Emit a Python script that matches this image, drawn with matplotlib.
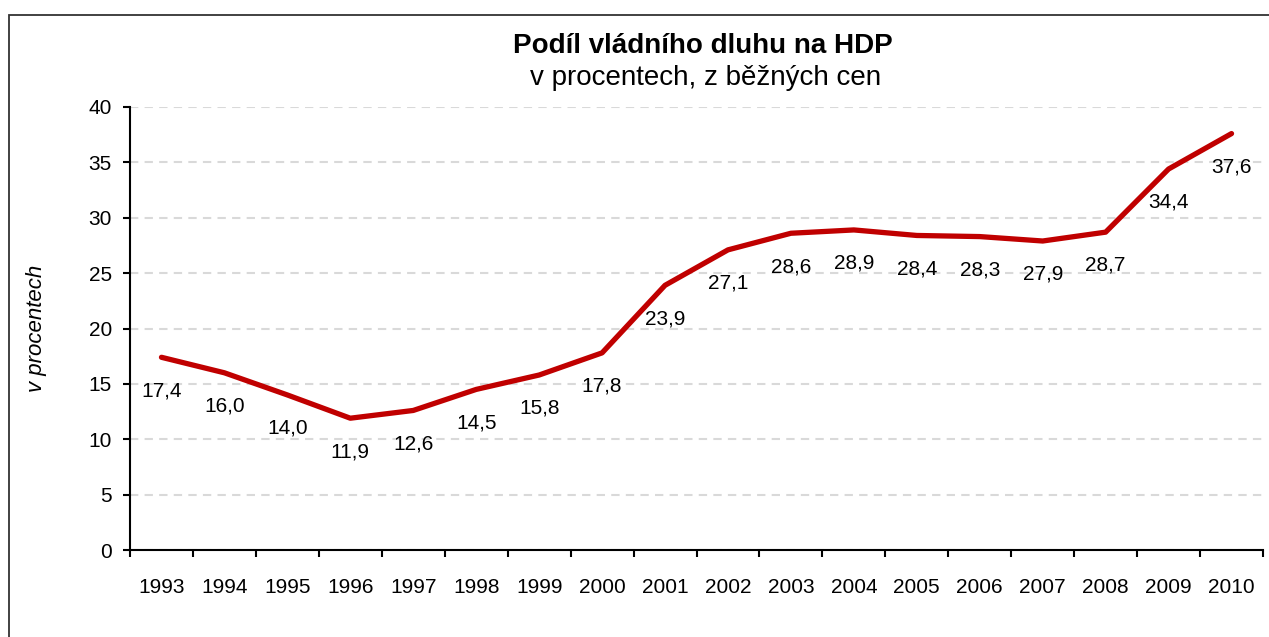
import matplotlib.pyplot as plt
import matplotlib.patches as patches

plt.rcParams['font.family'] = ['Liberation Sans', 'DejaVu Sans']

# Data
years = ['1993', '1994', '1995', '1996', '1997', '1998', '1999', '2000', '2001',
         '2002', '2003', '2004', '2005', '2006', '2007', '2008', '2009', '2010']
debt = [17.4, 16.0, 14.0, 11.9, 12.6, 14.5, 15.8, 17.8, 23.9,
        27.1, 28.6, 28.9, 28.4, 28.3, 27.9, 28.7, 34.4, 37.6]
yticks = [0, 5, 10, 15, 20, 25, 30, 35, 40]

fig = plt.figure(figsize=(12.69, 6.37), dpi=100)
ax = fig.add_axes([130 / 1269, 1 - 550 / 637, 1133 / 1269, 443 / 637])

x = list(range(len(years)))
ax.plot(x, debt, color='#C00000', linewidth=3.8, solid_capstyle='round', zorder=3)

for xi, v in zip(x, debt):
    ax.annotate(f'{v:.1f}'.replace('.', ','), (xi, v), xytext=(0, -24),
                textcoords='offset points', ha='center', va='center', fontsize=15)

ax.set_xlim(-0.5, len(years) - 0.5)
ax.set_ylim(0, 40)
ax.set_yticks(yticks)
ax.set_yticklabels([str(t) for t in yticks], fontsize=15)
ax.set_xticks(x)
ax.set_xticklabels(years, fontsize=15)
ax.set_xticks([i - 0.5 for i in range(len(years) + 1)], minor=True)
ax.tick_params(axis='x', which='major', length=0, pad=20)
ax.tick_params(axis='x', which='minor', length=5, width=1.5, direction='out')
ax.tick_params(axis='y', length=5, width=1.5, direction='out', pad=8)

ax.grid(axis='y', color='#D9D9D9', linestyle=(0, (4, 3)), linewidth=1.5)
ax.set_axisbelow(True)
for s in ['top', 'right']:
    ax.spines[s].set_visible(False)
for s in ['left', 'bottom']:
    ax.spines[s].set_linewidth(1.5)

ax.set_ylabel('v procentech', fontsize=16, style='italic')
ax.yaxis.set_label_coords(-83 / 1133, 0.5)

fig.text(703 / 1269, 1 - 46 / 637, 'Podíl vládního dluhu na HDP', ha='center', va='center',
         fontsize=20, fontweight='bold')
fig.text(706 / 1269, 1 - 78 / 637, 'v procentech, z běžných cen', ha='center', va='center',
         fontsize=20)

# outer chart frame
fig.patches.append(patches.Rectangle((9 / 1269, -0.05), 1.1, 1 - 15 / 637 + 0.05,
                                     transform=fig.transFigure, fill=False,
                                     edgecolor='#333333', linewidth=1.3))

plt.savefig('out.png', dpi=100)
